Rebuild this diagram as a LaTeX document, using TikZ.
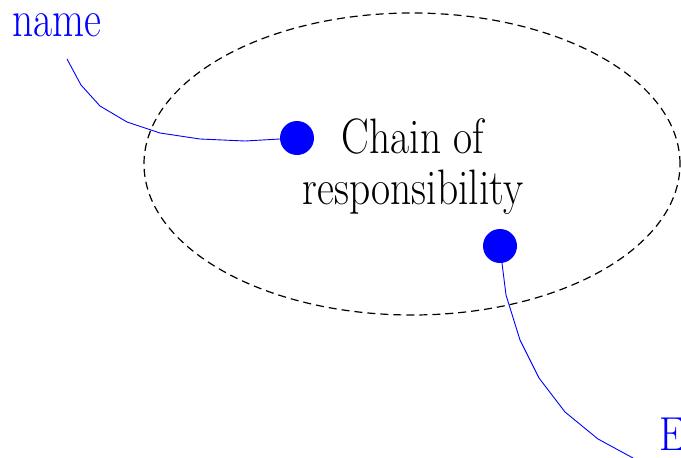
\documentclass[tikz,border=0pt]{standalone}
\usetikzlibrary{shapes.geometric}
\begin{document}
\begin{tikzpicture}[x=1pt,y=-1pt,
  lbl/.style={inner sep=0pt, font=\fontsize{41.5}{43.3}\selectfont},
  bluelbl/.style={lbl, text=blue},
  dot/.style={circle, fill=blue, inner sep=0pt, minimum size=34pt},
  wire/.style={blue, line width=0.9pt, line join=round},
  scopeell/.style={ellipse, draw=black, line width=1.2pt, dash pattern=on 8pt off 5pt, inner sep=0pt, minimum width=536pt, minimum height=302pt}
]
\useasboundingbox (0,0) rectangle (681,458);
\node[scopeell] (ell) at (412,164) {};
\node[lbl, anchor=base] (title) at (413,153) {\scalebox{1}[1.2]{\begin{tabular}[t]{@{}c@{}}Chain of\\responsibility\end{tabular}}};
\node[dot] (d1) at (297,138) {};
\node[dot] (d2) at (500,246) {};
\node[bluelbl, anchor=base west] (nm) at (12,36) {\scalebox{1}[1.25]{name}};
\node[bluelbl, anchor=base west] (ee) at (659,450) {\scalebox{1}[1.15]{E}};
\coordinate (s1) at (67,59);
\coordinate (s2) at (633,458);
\draw[wire] (s1) -- (81,85) -- (100,106) -- (127,122) -- (160,133) -- (200,139) -- (245,141) -- (d1);
\draw[wire] (d2) -- (502,263) -- (506,295) -- (520,340) -- (539,378) -- (565,412) -- (598,439) -- (s2);
\end{tikzpicture}
\end{document}
